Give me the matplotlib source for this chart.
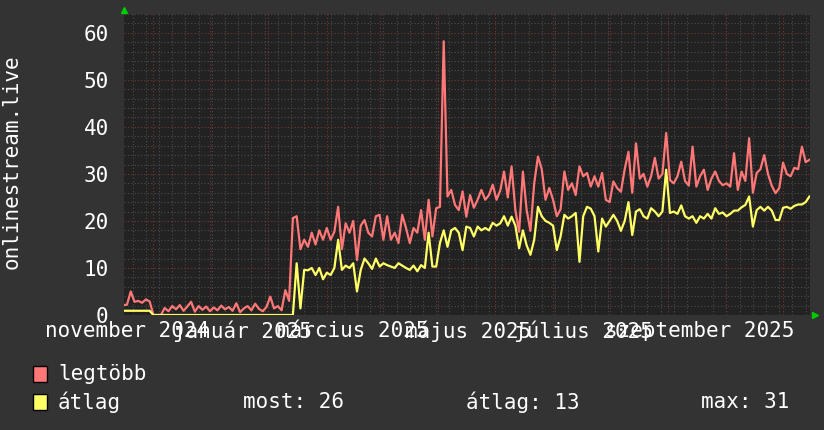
import numpy as np
import pandas as pd
import matplotlib
matplotlib.use("Agg")
import matplotlib.pyplot as plt
import matplotlib.dates as mdates
from matplotlib.ticker import MultipleLocator, FuncFormatter

# napi adatok, 2 naponta leolvasva
kezdet = "2024-10-30"
legtobb = [
    2.1, 2.2, 5.0, 2.8, 3.0, 2.6, 3.3, 2.9,
    0, 0, 0,
    1.5, 0.8, 1.9, 1.2, 2.1, 0.9, 1.8, 2.8, 0.7, 1.9, 1.1, 1.8, 0.8, 1.6, 1.0, 2.0, 1.2,
    1.7, 0.9, 2.5, 0.6, 1.4, 1.9, 1.0, 2.4, 1.3, 0.8, 1.7, 3.9, 1.4, 1.9, 1.0, 5.3, 3.0,
    20.6, 21, 14, 16, 14.5, 17.5, 15, 18, 16, 18.5, 16, 17.7, 23, 14, 19.5, 17.5, 20, 11.7,
    19, 20.2, 17.5, 16.7, 21, 21.3, 16, 21, 16, 17.5, 15.3, 21.3, 18.5, 15.3, 18.5, 17.5,
    22.3, 16, 24.5, 16.7, 22.7, 23, 58.2, 25.2, 26.6, 23.4, 22.3, 26.3, 20.9, 25.5, 22.8,
    24.5, 26.6, 24.5, 25.5, 27.7, 24.5, 26.5, 30.5, 25, 31.6, 22.3, 17.7, 30.5, 22.3, 17.9,
    28, 33.7, 31, 24.5, 27, 24.5, 21, 22.5, 30.5, 26.6, 28, 25.5, 31.6, 29.5, 30.2, 27.3,
    29.5, 27.3, 30.2, 24.5, 24, 28.4, 27, 26.2, 31, 34.7, 26, 36.5, 29, 30, 27.3, 29.5,
    33.4, 29, 30, 38.7, 28.7, 28, 29.5, 32.6, 28.5, 27.5, 35.8, 27.3, 29.5, 30.9, 26.6, 29,
    30.5, 28.5, 27.6, 28, 27.3, 34.4, 26.6, 30.5, 28.5, 37.6, 26, 30.2, 31, 34, 30, 27.5,
    25.9, 27, 32.4, 30, 29.5, 31.3, 31, 35.8, 32.5, 33,
]
atlag = [
    0.9, 0.9, 0.9, 0.9, 0.9, 0.9, 0.9, 0.9,
    0, 0, 0,
    0, 0, 0, 0, 0, 0, 0, 0, 0, 0, 0, 0, 0, 0, 0, 0, 0,
    0, 0, 0, 0, 0, 0, 0, 0, 0, 0, 0, 0, 0, 0, 0, 0, 0,
    0, 11, 1.4, 9.6, 9.5, 10, 8.5, 10, 7.6, 9, 8.5, 10, 16, 9.6, 10.5, 10, 11, 5,
    9.6, 12, 11, 9.8, 12, 10.3, 11, 10.6, 10.3, 10, 11, 10.5, 10, 9.6, 10.5, 9.3,
    10.6, 10, 17.5, 10.3, 10.3, 15.3, 18, 14.5, 18, 18.5, 17.5, 13.8, 18.8, 18.5, 16.7,
    18.8, 18, 18.5, 18, 19.6, 19, 19.5, 21, 19, 20.9, 19, 14.2, 18, 14.8, 12.8,
    16, 23, 21, 20, 19.6, 19, 13.8, 16.7, 21.3, 20.5, 21, 21.7, 11.3, 21, 23, 22.6,
    21, 13.5, 20.5, 18.8, 20, 21.3, 20, 17.9, 20, 24, 17, 22, 22.5, 21, 20.5, 22.7,
    22, 21, 22, 30.9, 21.7, 22, 21.5, 23.3, 21, 20.5, 21, 19.6, 21, 20.5, 21.5, 20.5,
    22.7, 21.5, 21.8, 21, 21.5, 22.2, 22.2, 22.9, 23.4, 25.2, 18.8, 22.3, 23, 22.2, 23, 22.2,
    20.2, 20.2, 22.8, 23, 22.6, 23.2, 23.5, 23.5, 24, 25.2,
]
most_ertek = 26
atlag_ertek = 13
max_ertek = 31
honapok = ["január", "február", "március", "április", "május", "június",
           "július", "augusztus", "szeptember", "október", "november", "december"]

datumok = pd.date_range(kezdet, periods=len(legtobb), freq="2D")

BG = "#333333"
PLOT_BG = "#222222"
PIROS = "#ff7777"
SARGA = "#ffff66"
plt.rcParams["font.family"] = ["DejaVu Sans Mono"]

fig = plt.figure(figsize=(8.24, 4.30), dpi=100, facecolor=BG)
ax = fig.add_axes([124 / 824, 115 / 430, 686 / 824, 301 / 430], facecolor=PLOT_BG)

ax.plot(datumok, legtobb, color=PIROS, lw=1.6, zorder=3)
ax.plot(datumok, atlag, color=SARGA, lw=1.6, zorder=4)

ax.set_xlim(pd.Timestamp("2024-10-30 10:00"), pd.Timestamp("2025-10-29 07:00"))
ax.set_ylim(0, 64)

# rács
ax.yaxis.set_major_locator(MultipleLocator(10))
ax.yaxis.set_minor_locator(MultipleLocator(2))
ax.xaxis.set_major_locator(mdates.MonthLocator(bymonth=[1, 3, 5, 7, 9, 11]))
ax.xaxis.set_minor_locator(mdates.WeekdayLocator(byweekday=mdates.MO))
ax.xaxis.set_major_formatter(FuncFormatter(
    lambda x, pos: f"{honapok[mdates.num2date(x).month - 1]} {mdates.num2date(x).year}"))

ax.grid(axis="y", which="minor", color="#4d4d4d", ls=(0, (1, 2)), lw=0.8)
ax.grid(axis="y", which="major", color="#7a3434", ls=(0, (1, 2)), lw=0.8)
ax.grid(axis="x", which="minor", color="#4d4d4d", ls=(0, (1, 2)), lw=0.8)
ax.grid(axis="x", which="major", visible=False)
for d in pd.date_range("2024-11-01", "2025-10-01", freq="MS") + pd.Timedelta(days=14):
    ax.axvline(d, color="#7a3434", ls=(0, (1, 2)), lw=0.8, zorder=1)
ax.set_axisbelow(True)

ax.tick_params(axis="both", which="both", length=0, colors="white", labelsize=15)
ax.tick_params(axis="y", pad=11)
ax.tick_params(axis="x", pad=4)
for s in ax.spines.values():
    s.set_visible(False)

fig.text(12 / 824, 1 - 162 / 430, "onlinestream.live", rotation=90, color="white",
         fontsize=15, ha="center", va="center")

# nyilak
fig.add_artist(plt.Line2D([124 / 824], [1 - 10 / 430], marker="^", color="#00cc00",
                          ms=5, transform=fig.transFigure))
fig.add_artist(plt.Line2D([815 / 824], [1 - 315 / 430], marker=">", color="#00cc00",
                          ms=5, transform=fig.transFigure))

# jelmagyarázat
for y, szin, cimke in [(374, PIROS, "legtöbb"), (402, SARGA, "átlag")]:
    fig.add_artist(plt.Rectangle((33 / 824, 1 - (y + 8) / 430), 14 / 824, 16 / 430,
                                 facecolor=szin, edgecolor="black", lw=1,
                                 transform=fig.transFigure))
    fig.text(58 / 824, 1 - y / 430, cimke, color="white", fontsize=15, va="center")
fig.text(243 / 824, 1 - 402 / 430, f"most: {most_ertek}", color="white", fontsize=15, va="center")
fig.text(466 / 824, 1 - 402 / 430, f"átlag: {atlag_ertek}", color="white", fontsize=15, va="center")
fig.text(701 / 824, 1 - 402 / 430, f"max: {max_ertek}", color="white", fontsize=15, va="center")

fig.savefig("out.png", dpi=100, facecolor=BG)
